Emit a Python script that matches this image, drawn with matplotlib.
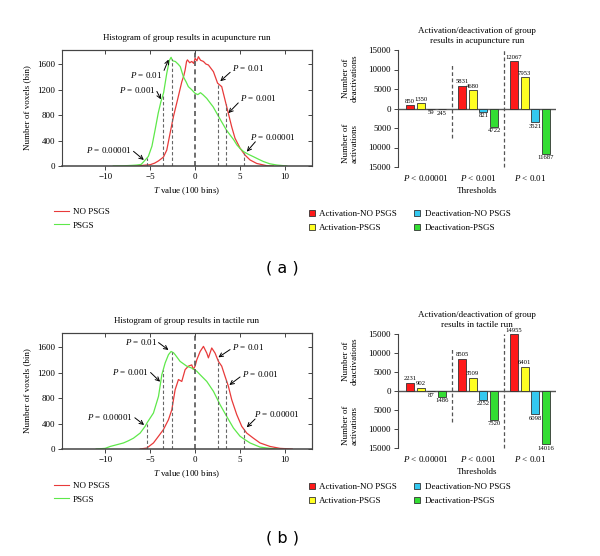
import numpy as np
import matplotlib
matplotlib.use("Agg")
import matplotlib.pyplot as plt
from matplotlib.lines import Line2D
from matplotlib.patches import Patch
from matplotlib.ticker import FuncFormatter

plt.rcParams['font.family'] = ['Liberation Serif', 'DejaVu Serif']
plt.rcParams['mathtext.fontset'] = 'custom'
plt.rcParams['mathtext.rm'] = 'Liberation Serif'
plt.rcParams['mathtext.it'] = 'Liberation Serif:italic'
plt.rcParams['font.size'] = 6.5
plt.rcParams['axes.unicode_minus'] = True

# ---------------- histogram data ----------------
# (a) acupuncture run
a_no_t = [-6.8, -6.1, -5.5, -5.0, -4.5, -4.07, -3.52, -3.15, -2.78, -2.41, -1.96, -1.48,
          -1.25, -1.11, -0.95, -0.85, -0.6, -0.37, -0.15, 0.0, 0.2, 0.37, 0.6, 0.93, 1.2,
          1.48, 2.04, 2.5, 2.96, 3.33, 3.7, 4.07, 4.44, 5.0, 5.56, 6.11, 6.85, 7.96, 8.7]
a_no_n = [0, 5, 15, 20, 45, 80, 140, 250, 515, 775, 1035, 1320,
          1420, 1505, 1640, 1665, 1620, 1640, 1610, 1690, 1650, 1715, 1660, 1640, 1600,
          1585, 1480, 1300, 1245, 1035, 825, 615, 435, 280, 170, 95, 40, 5, 0]
a_ps_t = [-9.1, -8.0, -7.0, -6.5, -6.0, -5.7, -5.2, -4.8, -4.45, -4.1, -3.8, -3.5, -3.15,
          -2.85, -2.67, -2.5, -2.2, -1.9, -1.65, -1.3, -1.0, -0.75, -0.4, 0.0, 0.3, 0.6,
          0.9, 1.3, 1.7, 2.0, 2.4, 2.8, 3.15, 3.5, 3.9, 4.3, 4.65, 5.0, 5.4, 5.9, 6.5,
          7.0, 7.6, 8.3, 9.1, 10.2]
a_ps_n = [0, 3, 10, 15, 25, 70, 150, 310, 565, 830, 1010, 1150, 1455,
          1660, 1705, 1650, 1640, 1600, 1560, 1400, 1320, 1245, 1200, 1140, 1120, 1150,
          1115, 1060, 985, 930, 830, 730, 645, 560, 485, 410, 330, 275, 225, 185, 145,
          110, 70, 35, 15, 0]

# (b) tactile run
b_no_t = [-6.1, -5.37, -4.63, -4.07, -3.52, -2.96, -2.59, -2.22, -1.85, -1.48, -1.11,
          -0.74, -0.37, -0.2, 0.0, 0.19, 0.56, 0.93, 1.3, 1.48, 1.85, 2.22, 2.59, 2.96,
          3.33, 3.7, 4.07, 4.63, 5.19, 5.74, 6.48, 7.22, 8.33, 9.44, 10.8]
b_no_n = [0, 15, 95, 200, 305, 460, 615, 930, 1090, 1060, 1245,
          1300, 1320, 1250, 1300, 1400, 1530, 1610, 1505, 1430, 1585, 1505, 1375, 1300,
          1140, 985, 775, 540, 355, 250, 170, 95, 40, 10, 0]
b_ps_t = [-11.0, -10.0, -9.44, -8.5, -7.96, -7.4, -6.85, -6.11, -5.56, -5.3, -4.63,
          -4.07, -3.7, -3.33, -2.96, -2.67, -2.4, -2.22, -1.67, -0.93, -0.37, 0.19, 0.56,
          1.3, 2.04, 2.78, 3.52, 4.26, 5.0, 5.5, 6.11, 7.22, 8.0, 8.7, 9.2]
b_ps_n = [0, 10, 40, 75, 95, 130, 170, 250, 355, 420, 565,
          825, 1165, 1350, 1480, 1530, 1510, 1480, 1375, 1300, 1270, 1220, 1165,
          1060, 905, 695, 510, 330, 200, 150, 95, 30, 15, 5, 0]

thr_left = [-5.4, -3.55, -2.6]
thr_right = [2.5, 3.45, 5.4]

# annotation labels: text, text pos, align, arrow start, arrow tip
notes_a = [("0.01", (-3.6, 1430), 'right', (-3.45, 1500), (-2.95, 1670)),
           ("0.001", (-4.35, 1190), 'right', (-4.25, 1170), (-3.8, 1045)),
           ("0.00001", (-7.0, 250), 'right', (-6.85, 230), (-5.7, 95)),
           ("0.01", (4.1, 1530), 'left', (3.9, 1470), (2.8, 1330)),
           ("0.001", (5.0, 1060), 'left', (4.8, 990), (3.7, 830)),
           ("0.00001", (6.1, 460), 'left', (6.7, 380), (5.75, 225))]
notes_b = [("0.01", (-4.2, 1683), 'right', (-4.07, 1670), (-2.96, 1553)),
           ("0.001", (-5.1, 1213), 'right', (-4.95, 1200), (-3.89, 1056)),
           ("0.00001", (-6.9, 507), 'right', (-6.7, 490), (-5.67, 377)),
           ("0.01", (4.1, 1595), 'left', (3.89, 1560), (2.59, 1438)),
           ("0.001", (5.2, 1172), 'left', (5.0, 1130), (3.81, 1004)),
           ("0.00001", (6.5, 549), 'left', (6.67, 470), (5.74, 340))]

# ---------------- bar data ----------------
thresholds = ["$P$ < 0.00001", "$P$ < 0.001", "$P$ < 0.01"]
bar_names = ["Activation-NO PSGS", "Activation-PSGS", "Deactivation-NO PSGS", "Deactivation-PSGS"]
a_act_no = [850, 5831, 12067]
a_act_ps = [1350, 4680, 7953]
a_deact_no = [59, 821, 3521]
a_deact_ps = [245, 4722, 11687]
b_act_no = [2231, 8505, 14955]
b_act_ps = [902, 3509, 6401]
b_deact_no = [87, 2252, 6098]
b_deact_ps = [1486, 7520, 14016]

RED_LINE = '#e83a3a'
GREEN_LINE = '#5ee84a'
BAR_COLORS = ['#ff1a1a', '#ffff22', '#33c8f0', '#33dd33']
AX_COL = '#444444'

fig = plt.figure(figsize=(6, 5.56), dpi=100)


def px_rect(left, top, right, bottom):
    return [left / 600, 1 - bottom / 556, (right - left) / 600, (bottom - top) / 556]


def draw_hist(rect, title, t_no, n_no, t_ps, n_ps, notes, leg_top):
    ax = fig.add_axes(rect)
    ax.plot(t_no, n_no, color=RED_LINE, lw=0.9, label='NO PSGS')
    ax.plot(t_ps, n_ps, color=GREEN_LINE, lw=0.9, label='PSGS')
    ax.set_xlim(-14.8, 13)
    ax.set_ylim(0, 1820)
    ax.axvline(0, color='#555555', lw=1.2, ls=(0, (3, 2)))
    for x in thr_left:
        ax.vlines(x, 0, np.interp(x, t_ps, n_ps), color='#666666', lw=0.8, ls=(0, (3, 2)))
    for x in thr_right:
        ax.vlines(x, 0, np.interp(x, t_no, n_no), color='#666666', lw=0.8, ls=(0, (3, 2)))
    for lab, txy, ha, a0, a1 in notes:
        ax.text(txy[0], txy[1], "$P$ = " + lab, ha=ha, va='center', fontsize=6.5)
        ax.annotate('', xy=a1, xytext=a0,
                    arrowprops=dict(arrowstyle='->', lw=0.7, color='black',
                                    shrinkA=0, shrinkB=0, mutation_scale=7))
    ax.set_xticks([-10, -5, 0, 5, 10])
    ax.set_yticks([0, 400, 800, 1200, 1600])
    ax.tick_params(direction='out', length=3, width=0.7, color=AX_COL, pad=2)
    for s in ax.spines.values():
        s.set_color(AX_COL)
        s.set_linewidth(0.8)
    ax.spines['bottom'].set_linewidth(1.1)
    top = ax.secondary_xaxis('top')
    top.set_xticks([-10, -5, 0, 5, 10])
    top.set_xticklabels([])
    top.tick_params(direction='in', length=3, width=0.7, color=AX_COL)
    top.spines['top'].set_color(AX_COL)
    right = ax.secondary_yaxis('right')
    right.set_yticks([0, 400, 800, 1200, 1600])
    right.set_yticklabels([])
    right.tick_params(direction='in', length=3, width=0.7, color=AX_COL)
    right.spines['right'].set_color(AX_COL)
    ax.set_title(title, fontsize=6.5, pad=7)
    ax.set_xlabel("$T$ value (100 bins)", fontsize=6.5, labelpad=3)
    ax.set_ylabel("Number of voxels (bin)", fontsize=6.5, labelpad=4)
    handles = [Line2D([], [], color=RED_LINE, lw=0.8), Line2D([], [], color=GREEN_LINE, lw=0.8)]
    fig.legend(handles, ['NO PSGS', 'PSGS'], loc='upper left',
               bbox_to_anchor=(54 / 600, 1 - leg_top / 556), frameon=False, fontsize=6.5,
               handlelength=1.7, handletextpad=0.4, labelspacing=0.55,
               borderpad=0, borderaxespad=0)
    return ax


def draw_bars(rect, title, act_no, act_ps, deact_no, deact_ps, sep1, leg_top):
    ax = fig.add_axes(rect)
    g = np.arange(len(thresholds))
    series = [np.array(act_no), np.array(act_ps), -np.array(deact_no), -np.array(deact_ps)]
    raw = [act_no, act_ps, deact_no, deact_ps]
    step, width = 0.205, 0.155
    for i, (vals, c) in enumerate(zip(series, BAR_COLORS)):
        bars = ax.bar(g + (i - 1.5) * step, vals, width, color=c, edgecolor='#333333', lw=0.6)
        ax.bar_label(bars, labels=[str(v) for v in raw[i]], padding=1, fontsize=4.8)
    ax.axhline(0, color='#555555', lw=1.0, zorder=0.5)
    ax.vlines(0.5, sep1[0], sep1[1], color='#555555', lw=0.9, ls=(0, (3, 2)), clip_on=False)
    ax.vlines(1.5, -15000, 15000, color='#555555', lw=0.9, ls=(0, (3, 2)), clip_on=False)
    ax.set_xlim(-0.54, 2.5)
    ax.set_ylim(-15000, 15000)
    ax.set_yticks(np.arange(-15000, 15001, 5000))
    ax.yaxis.set_major_formatter(FuncFormatter(lambda v, p: f"{abs(int(v))}"))
    ax.set_xticks(g)
    ax.set_xticklabels(thresholds, fontsize=6.5)
    ax.tick_params(axis='x', length=0, pad=4)
    ax.tick_params(axis='y', direction='out', length=3, width=0.7, color=AX_COL, pad=2)
    for s in ['top', 'right', 'bottom']:
        ax.spines[s].set_visible(False)
    ax.spines['left'].set_color(AX_COL)
    ax.spines['left'].set_linewidth(0.8)
    ax.set_title(title, fontsize=6.5, pad=5, linespacing=1.4)
    ax.set_xlabel("Thresholds", fontsize=6.5, labelpad=3)
    ax.text(-0.30, 0.76, "Number of\ndeactivations", transform=ax.transAxes, rotation=90,
            ha='center', va='center', fontsize=6.5, linespacing=1.1)
    ax.text(-0.30, 0.20, "Number of\nactivations", transform=ax.transAxes, rotation=90,
            ha='center', va='center', fontsize=6.5, linespacing=1.1)
    handles = [Patch(facecolor=c, edgecolor='#333333', lw=0.6) for c in BAR_COLORS]
    fig.legend(handles, bar_names, loc='upper left', ncol=2,
               bbox_to_anchor=(309 / 600, 1 - leg_top / 556), frameon=False, fontsize=6.5,
               handlelength=0.65, handleheight=0.65, handletextpad=0.5, labelspacing=0.6,
               columnspacing=1.9, borderpad=0, borderaxespad=0)
    return ax


draw_hist(px_rect(62, 50, 312, 166), "Histogram of group results in acupuncture run",
          a_no_t, a_no_n, a_ps_t, a_ps_n, notes_a, 208)
draw_bars(px_rect(398, 50, 556, 167),
          "Activation/deactivation of group\nresults in acupuncture run",
          a_act_no, a_act_ps, a_deact_no, a_deact_ps, (-7500, 11100), 210)
fig.text(282 / 600, 1 - 268 / 556, "( a )", family='DejaVu Sans', fontsize=11.5,
         ha='center', va='center')

draw_hist(px_rect(62, 333, 312, 449), "Histogram of group results in tactile run",
          b_no_t, b_no_n, b_ps_t, b_ps_n, notes_b, 482)
draw_bars(px_rect(398, 334, 556, 448),
          "Activation/deactivation of group\nresults in tactile run",
          b_act_no, b_act_ps, b_deact_no, b_deact_ps, (-8200, 11000), 483)
fig.text(282 / 600, 1 - 538 / 556, "( b )", family='DejaVu Sans', fontsize=11.5,
         ha='center', va='center')

fig.savefig("out.png", dpi=100)
